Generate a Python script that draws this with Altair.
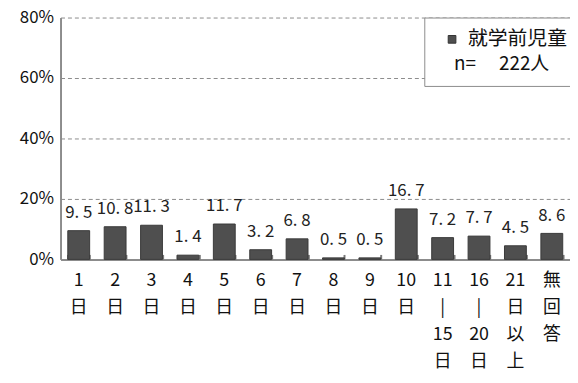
import altair as alt
import pandas as pd

categories = ["1/日", "2/日", "3/日", "4/日", "5/日", "6/日", "7/日", "8/日", "9/日",
              "10/日", "11/|/15/日", "16/|/20/日", "21/日/以/上", "無/回/答"]
values = [9.5, 10.8, 11.3, 1.4, 11.7, 3.2, 6.8, 0.5, 0.5, 16.7, 7.2, 7.7, 4.5, 8.6]
series = "就学前児童"
n_label = "n=\u3000 222人"
y_ticks = [0, 20, 40, 60, 80]

df = pd.DataFrame({"cat": categories, "v": values, "series": series})

FONT = "Noto Sans CJK JP"

xscale = alt.Scale(paddingInner=0.4, paddingOuter=0.2)

x = alt.X("cat:N", sort=categories, title=None, scale=xscale,
          axis=alt.Axis(labelAngle=0, labelExpr="split(datum.label, '/')",
                        labelLineHeight=27.5, labelFontSize=18, labelPadding=12,
                        labelColor="#111", labelBaseline="top",
                        domainColor="#8c8c8c", domainWidth=2,
                        ticks=False, labelFont=FONT))

bars = alt.Chart(df).mark_bar(stroke="#3a3a3a", strokeWidth=1).encode(
    x=x,
    y=alt.Y("v:Q", scale=alt.Scale(domain=[0, 80]), title=None,
            axis=alt.Axis(values=y_ticks, labelExpr="datum.value + '%'",
                          labelFontSize=17, labelColor="#111", labelFont=FONT,
                          ticks=False, labelPadding=7,
                          grid=True, gridDash=[4, 3], gridColor="#8c8c8c",
                          domainColor="#8c8c8c", domainWidth=2)),
    color=alt.Color("series:N", scale=alt.Scale(range=["#4f4f4f"]),
                    legend=alt.Legend(title=n_label, titleOrient="bottom",
                                      orient="none", legendX=367, legendY=0,
                                      symbolType="square", symbolSize=60,
                                      symbolStrokeColor="#333", symbolStrokeWidth=1,
                                      symbolOffset=6,
                                      labelFontSize=20, labelFont=FONT,
                                      labelColor="#111", labelOffset=6,
                                      titleFontSize=19, titleFont=FONT,
                                      titleFontWeight="normal", titleColor="#111",
                                      titleAnchor="middle", titlePadding=6,
                                      strokeColor="#8c8c8c",
                                      fillColor="white", padding=12)),
)

labels = alt.Chart(df).transform_calculate(
    t="replace(format(datum.v, '.1f'), '.', '. ')"
).mark_text(baseline="bottom", dy=-9, fontSize=17, font=FONT, color="#222").encode(
    x=alt.X("cat:N", sort=categories, title=None,
            axis=alt.Axis(orient="top", labels=False, domain=False,
                          tickBand="extent", tickSize=5, tickColor="#7a7a7a",
                          tickWidth=2, offset=-244)),
    y=alt.Y("v:Q"),
    text="t:N",
)

chart = (bars + labels).resolve_axis(x="independent").properties(
    width=514, height=244,
    autosize=alt.AutoSizeParams(type="none"),
    padding={"left": 53, "top": 8, "right": 0, "bottom": 115},
).configure_view(stroke=None)

chart.save("out.html", embed_options={"renderer": "svg", "actions": False})
